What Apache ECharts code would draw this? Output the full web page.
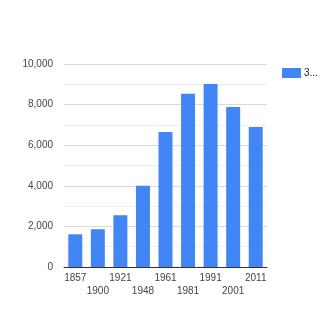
<!DOCTYPE html>
<html>
<head>
<meta charset="utf-8">
<style>html,body{margin:0;padding:0;background:#fff;}#c{width:330px;height:330px;}</style>
<script src="https://cdn.jsdelivr.net/npm/echarts@6/dist/echarts.min.js"></script>
</head>
<body>
<div id="c"></div>
<script>
const categories = ['1857','1900','1921','1948','1961','1981','1991','2001','2011'];
const values = [1610, 1860, 2550, 4005, 6650, 8540, 9015, 7880, 6900];
const seriesName = '3...';
const yTicks = [0, 2000, 4000, 6000, 8000, 10000];

const chart = echarts.init(document.getElementById('c'), null, {renderer: 'canvas'});
chart.setOption({
  animation: false,
  textStyle: {fontFamily: 'Arial, Liberation Sans, sans-serif'},
  grid: {left: 64, right: 63, top: 64, bottom: 63, containLabel: false},
  legend: {
    show: true, left: 277, top: 63, itemWidth: 19, itemHeight: 10, itemGap: 4,
    icon: 'rect', orient: 'vertical',
    textStyle: {color: '#222', fontSize: 10, padding: [0,0,0,-2]},
    data: [seriesName]
  },
  xAxis: {
    type: 'category', data: categories,
    axisTick: {show: false},
    axisLine: {lineStyle: {color: '#333', width: 1}},
    axisLabel: {
      interval: 0, color: '#444', fontSize: 10, margin: 5, lineHeight: 13,
      formatter: function (v, i) { return i % 2 === 1 ? '\n' + v : v; }
    }
  },
  yAxis: {
    type: 'value', min: yTicks[0], max: yTicks[yTicks.length - 1], interval: 2000,
    axisLine: {show: false}, axisTick: {show: false},
    axisLabel: {color: '#444', fontSize: 10, margin: 11,
      formatter: function (v) { return v.toLocaleString('en-US'); }},
    splitLine: {lineStyle: {color: '#d9d9d9', width: 1}},
    minorTick: {show: false, splitNumber: 2},
    minorSplitLine: {show: true, lineStyle: {color: '#efefef', width: 1}}
  },
  series: [{
    name: seriesName, type: 'bar', data: values,
    barCategoryGap: '38%',
    itemStyle: {color: '#4285f4'}
  }]
});
</script>
</body>
</html>
